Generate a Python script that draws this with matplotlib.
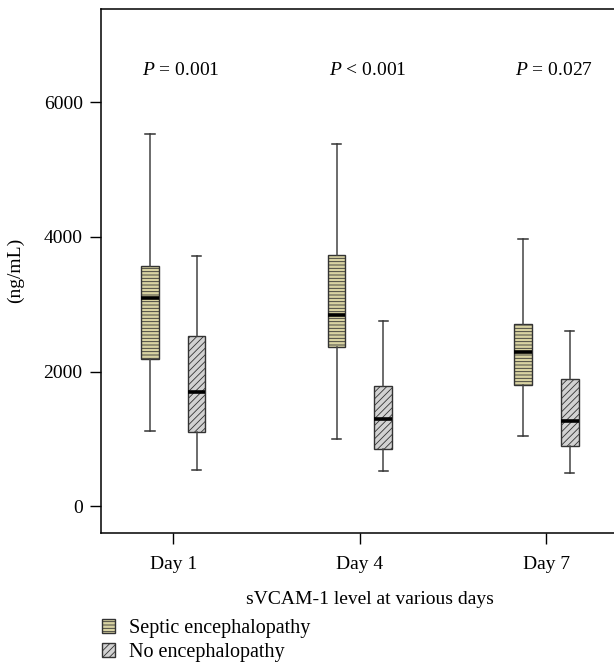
import matplotlib
matplotlib.use("Agg")
import matplotlib.pyplot as plt
from matplotlib.patches import Patch

# values (ng/mL)
days = ["Day 1", "Day 4", "Day 7"]
p_labels = ["0.001", "< 0.001", "0.027"]

septic_whishi = [5527, 5383, 3966]
septic_q3 = [3560, 3732, 2702]
septic_med = [3088, 2846, 2296]
septic_q1 = [2181, 2370, 1795]
septic_whislo = [1126, 996, 1041]

none_whishi = [3709, 2751, 2602]
none_q3 = [2528, 1784, 1894]
none_med = [1701, 1304, 1264]
none_q1 = [1111, 858, 892]
none_whislo = [546, 520, 497]

SEPTIC_FC = "#d8d3a2"
NONE_FC = "#d2d2d2"
FS = 14

plt.rcParams["font.family"] = ["Liberation Serif", "DejaVu Serif"]
plt.rcParams["mathtext.fontset"] = "custom"
plt.rcParams["mathtext.rm"] = "Liberation Serif"
plt.rcParams["mathtext.it"] = "Liberation Serif:italic"
plt.rcParams["hatch.linewidth"] = 0.6

fig = plt.figure(figsize=(6.14, 6.68), dpi=100)
ax = fig.add_axes([0.164, 0.2025, 0.878, 0.784])


def stats(whislo, q1, med, q3, whishi):
    return [dict(whislo=a, q1=b, med=c, q3=d, whishi=e, fliers=[])
            for a, b, c, d, e in zip(whislo, q1, med, q3, whishi)]


pos = list(range(len(days)))
off = 0.125
w = 0.094
common = dict(widths=w, showfliers=False, patch_artist=True, manage_ticks=False,
              whiskerprops=dict(color="#444444", lw=1.1),
              capprops=dict(color="#333333", lw=1.1),
              medianprops=dict(color="black", lw=2.6),
              capwidths=0.05)

b1 = ax.bxp(stats(septic_whislo, septic_q1, septic_med, septic_q3, septic_whishi),
            positions=[p - off for p in pos],
            boxprops=dict(facecolor=SEPTIC_FC, edgecolor="#333333", lw=1.0), **common)
for b in b1["boxes"]:
    b.set_hatch("-----")

b2 = ax.bxp(stats(none_whislo, none_q1, none_med, none_q3, none_whishi),
            positions=[p + off for p in pos],
            boxprops=dict(facecolor=NONE_FC, edgecolor="#333333", lw=1.0), **common)
for b in b2["boxes"]:
    b.set_hatch("/////")

for p, lab in zip(pos, p_labels):
    sign = "<" if lab.startswith("<") else "="
    val = lab.replace("<", "").strip()
    ax.text(p + 0.04, 6470, f"$P$ {sign} {val}", ha="center", va="center", fontsize=FS)

ax.set_xlim(-0.389, 2.5)
ax.set_ylim(-390, 7380)
ax.set_yticks([0, 2000, 4000, 6000])
ax.set_xticks(pos)
ax.set_xticklabels(days)
ax.tick_params(direction="out", length=8, width=1, labelsize=FS, pad=5)
ax.tick_params(axis="x", pad=9)
ax.set_xlabel("sVCAM-1 level at various days", fontsize=FS, labelpad=13)
ax.set_ylabel("(ng/mL)", fontsize=FS, labelpad=14)
for s in ax.spines.values():
    s.set_linewidth(1.1)

handles = [Patch(facecolor=SEPTIC_FC, edgecolor="#333333", hatch="-----", label="Septic encephalopathy"),
           Patch(facecolor=NONE_FC, edgecolor="#333333", hatch="/////", label="No encephalopathy")]
fig.legend(handles=handles, loc="upper left", bbox_to_anchor=(0.153, 0.0855),
           frameon=False, fontsize=14.5, handlelength=0.65, handleheight=0.7,
           handletextpad=0.7, labelspacing=0.25, borderaxespad=0)

fig.savefig("out.png", dpi=100)
